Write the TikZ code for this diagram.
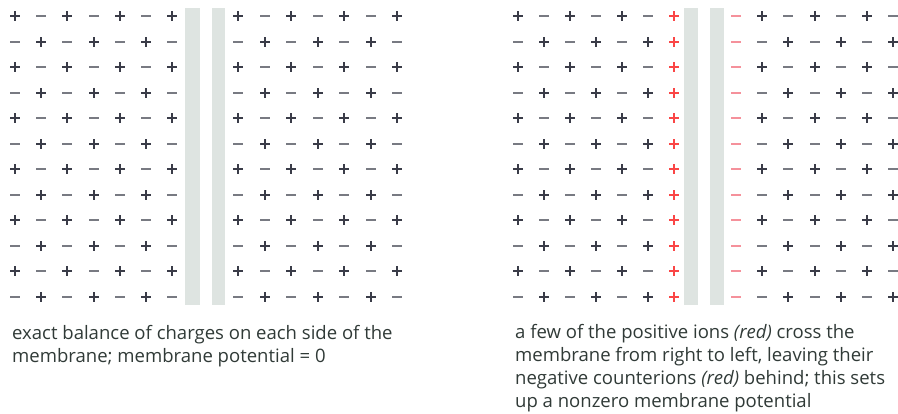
\documentclass[tikz,border=0pt]{standalone}
\usepackage{fontspec}
\setmainfont{Open Sans}
\usepackage{tikz}

\definecolor{ink}{RGB}{58,60,72}
\definecolor{minusgray}{RGB}{120,122,130}
\definecolor{membrane}{RGB}{222,228,225}
\definecolor{ionred}{RGB}{250,70,70}
\definecolor{counterred}{RGB}{245,145,155}
\definecolor{captext}{RGB}{48,58,55}

\tikzset{
  plus/.style={ink, line width=2bp},
  minus/.style={minusgray, line width=1.4bp},
  caption/.style={anchor=north west, align=left, inner sep=0pt, text=captext,
    font=\fontsize{18.6}{23}\selectfont},
}
% + and - signs centred on a point
\newcommand{\plussign}[3][plus]{\draw[#1] (#2-5,#3) -- (#2+5,#3) (#2,#3-5) -- (#2,#3+5);}
\newcommand{\minussign}[3][minus]{\draw[#1] (#2-5,#3) -- (#2+5,#3);}

\begin{document}
\begin{tikzpicture}[x=1bp, y=-1bp]
	\useasboundingbox (0,0) rectangle (898,413);

	% membranes
	\fill[membrane] (185,8) rectangle (200,305);
	\fill[membrane] (212,8) rectangle (225,305);
	\fill[membrane] (684,8) rectangle (698,305);
	\fill[membrane] (710,8) rectangle (724,305);

	% left panel: exact balance on both sides
	\foreach \r in {0,...,11} {
		\foreach \c in {0,...,6} {
			\pgfmathsetmacro{\yy}{round(16+\r*25.5)}
			\pgfmathsetmacro{\xa}{round(15+\c*26.2)}
			\pgfmathsetmacro{\xb}{round(238+\c*26.5)}
			\ifodd\numexpr\r+\c\relax
				\minussign{\xa}{\yy}
				\minussign{\xb}{\yy}
			\else
				\plussign{\xa}{\yy}
				\plussign{\xb}{\yy}
			\fi
		}
	}

	% right panel: a few positive ions have crossed
	\foreach \r in {0,...,11} {
		\pgfmathsetmacro{\yy}{round(16+\r*25.5)}
		\foreach \c in {0,...,5} {
			\pgfmathsetmacro{\xa}{518+\c*26}
			\ifodd\numexpr\r+\c\relax
				\minussign{\xa}{\yy}
			\else
				\plussign{\xa}{\yy}
			\fi
		}
		\plussign[plus, ionred, line width=1.6bp]{674}{\yy}
		\minussign[minus, counterred]{736}{\yy}
		\foreach \c in {1,...,6} {
			\pgfmathsetmacro{\xb}{round(736+\c*26.2)}
			\ifodd\numexpr\r+\c\relax
				\plussign{\xb}{\yy}
			\else
				\minussign{\xb}{\yy}
			\fi
		}
	}

	% captions
	\node[caption] (leftcap) at (12,325.5) {exact balance of charges on each side of the\\
		membrane; membrane potential = 0};
	\node[caption] (rightcap) at (515,324) {a few of the positive ions \textit{(red)} cross the\\
		membrane from right to left, leaving their\\
		negative counterions \textit{(red)} behind; this sets\\
		up a nonzero membrane potential};
\end{tikzpicture}
\end{document}
